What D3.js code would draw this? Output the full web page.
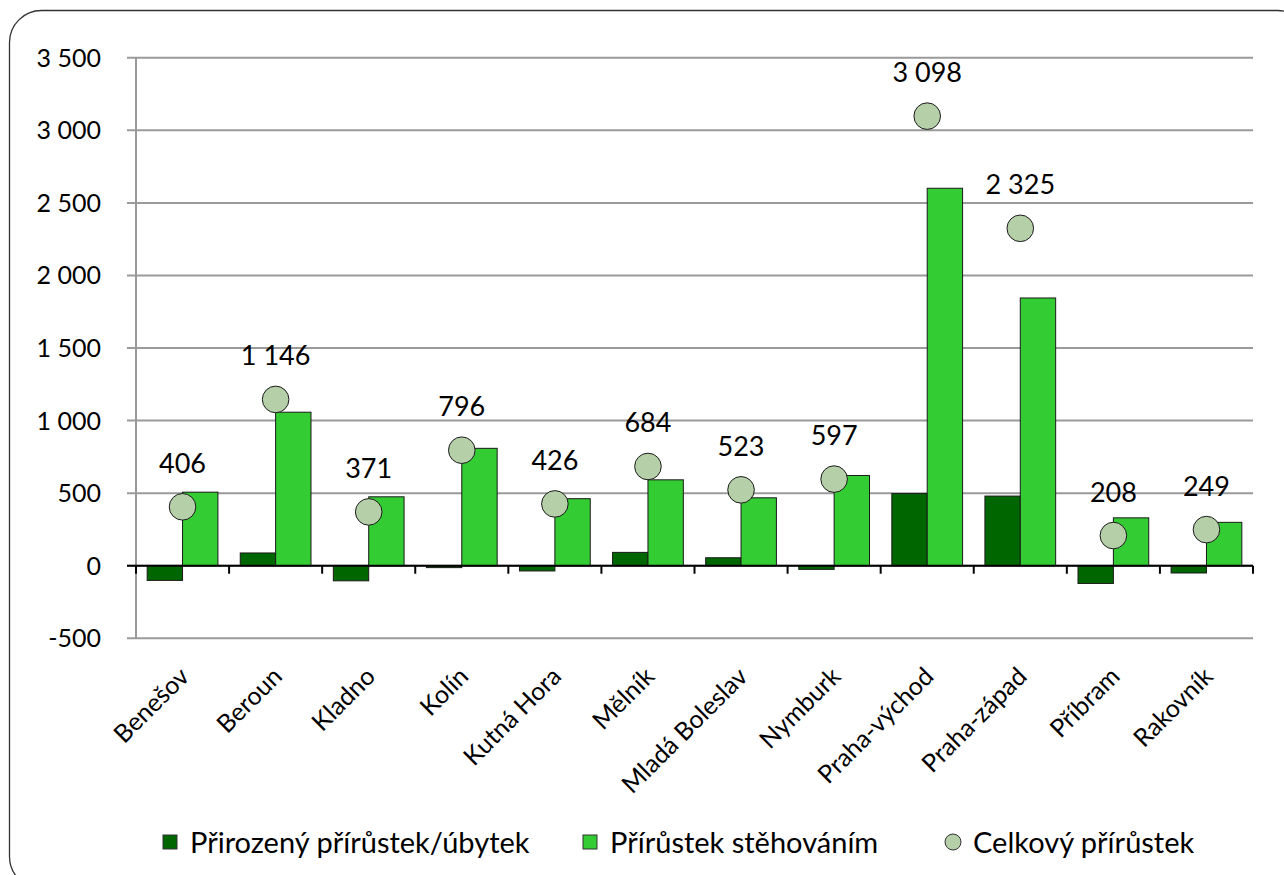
<!DOCTYPE html>
<html>
<head>
<meta charset="utf-8">
<script src="https://cdn.jsdelivr.net/npm/d3@7"></script>
<style>
  body { margin: 0; background: #fff; }
  svg { font-family: Lato, "Open Sans", sans-serif; }
</style>
</head>
<body>
<div id="chart"></div>
<script>
// Frame size and plot margins
const FRAME_WIDTH = 1284;
const FRAME_HEIGHT = 875;
const PLOT = {left: 136, right: 1253, top: 57.8, bottom: 638.3};

// Data
const districts = ["Benešov", "Beroun", "Kladno", "Kolín", "Kutná Hora", "Mělník",
                   "Mladá Boleslav", "Nymburk", "Praha-východ", "Praha-západ", "Příbram", "Rakovník"];
const natural = [-101, 88, -104, -13, -36, 92, 55, -25, 497, 480, -122, -50];
const migration = [507, 1058, 475, 809, 462, 592, 468, 622, 2601, 1845, 330, 299];
const total = [406, 1146, 371, 796, 426, 684, 523, 597, 3098, 2325, 208, 249];
const yTicks = [-500, 0, 500, 1000, 1500, 2000, 2500, 3000, 3500];
const seriesNames = ["Přirozený přírůstek/úbytek", "Přírůstek stěhováním", "Celkový přírůstek"];

const color = {natural: "#006600", migration: "#33cc33", total: "#b5cfa9"};

// Czech number format: space as thousands separator, plain hyphen for minus
const fmt = (v) => d3.format(",")(v).replace(/,/g, " ").replace("\u2212", "-");

const svg = d3.select("#chart")
  .append("svg")
    .attr("width", FRAME_WIDTH)
    .attr("height", FRAME_HEIGHT);

// Rounded outer border
svg.append("rect")
  .attr("x", 9.5).attr("y", 10.5)
  .attr("width", 1300).attr("height", 878)
  .attr("rx", 32).attr("ry", 32)
  .attr("fill", "none")
  .attr("stroke", "#333")
  .attr("stroke-width", 1.3);

// Scales
const X = d3.scaleBand()
  .domain(districts)
  .range([PLOT.left, PLOT.right])
  .paddingInner(0).paddingOuter(0);

const Y = d3.scaleLinear()
  .domain([-500, 3500])
  .range([PLOT.bottom, PLOT.top]);

const barW = X.bandwidth() * 0.38;

// Gridlines (with short tick stubs left of axis)
svg.append("g")
  .selectAll("line")
  .data(yTicks)
  .enter()
  .append("line")
    .attr("x1", PLOT.left - 9).attr("x2", PLOT.right)
    .attr("y1", (d) => Y(d)).attr("y2", (d) => Y(d))
    .attr("stroke", "#9a9a9a")
    .attr("stroke-width", 2);

// Y axis line
svg.append("line")
  .attr("x1", PLOT.left).attr("x2", PLOT.left)
  .attr("y1", PLOT.top).attr("y2", PLOT.bottom)
  .attr("stroke", "#9a9a9a")
  .attr("stroke-width", 2);

// Y tick labels
svg.append("g")
  .selectAll("text")
  .data(yTicks)
  .enter()
  .append("text")
    .attr("x", 101)
    .attr("y", (d) => Y(d))
    .attr("dy", "0.36em")
    .attr("text-anchor", "end")
    .attr("font-size", "25px")
    .attr("fill", "#000")
    .text((d) => fmt(d));

// Natural increase bars
svg.append("g")
  .selectAll("rect")
  .data(districts)
  .enter()
  .append("rect")
    .attr("x", (d) => X(d) + X.bandwidth() / 2 - barW)
    .attr("y", (d, i) => Y(Math.max(0, natural[i])))
    .attr("width", barW)
    .attr("height", (d, i) => Math.abs(Y(natural[i]) - Y(0)))
    .attr("fill", color.natural)
    .attr("stroke", "#1a1a1a")
    .attr("stroke-width", 1);

// Migration bars
svg.append("g")
  .selectAll("rect")
  .data(districts)
  .enter()
  .append("rect")
    .attr("x", (d) => X(d) + X.bandwidth() / 2)
    .attr("y", (d, i) => Y(Math.max(0, migration[i])))
    .attr("width", barW)
    .attr("height", (d, i) => Math.abs(Y(migration[i]) - Y(0)))
    .attr("fill", color.migration)
    .attr("stroke", "#1a1a1a")
    .attr("stroke-width", 1);

// X axis at zero with tick marks between categories
svg.append("line")
  .attr("x1", PLOT.left - 9).attr("x2", PLOT.right)
  .attr("y1", Y(0)).attr("y2", Y(0))
  .attr("stroke", "#000")
  .attr("stroke-width", 2);

svg.append("g")
  .selectAll("line")
  .data(districts.concat(["end"]))
  .enter()
  .append("line")
    .attr("x1", (d, i) => PLOT.left + i * X.bandwidth())
    .attr("x2", (d, i) => PLOT.left + i * X.bandwidth())
    .attr("y1", Y(0)).attr("y2", Y(0) + 8)
    .attr("stroke", "#000")
    .attr("stroke-width", 2);

// Total increase circles
svg.append("g")
  .selectAll("circle")
  .data(districts)
  .enter()
  .append("circle")
    .attr("cx", (d) => X(d) + X.bandwidth() / 2)
    .attr("cy", (d, i) => Y(total[i]))
    .attr("r", 13.3)
    .attr("fill", color.total)
    .attr("stroke", "#1a1a1a")
    .attr("stroke-width", 1);

// Total labels
svg.append("g")
  .selectAll("text")
  .data(districts)
  .enter()
  .append("text")
    .attr("x", (d) => X(d) + X.bandwidth() / 2)
    .attr("y", (d, i) => Y(total[i]) - 34)
    .attr("text-anchor", "middle")
    .attr("font-size", "27px")
    .attr("fill", "#000")
    .text((d, i) => fmt(total[i]));

// Category labels rotated
svg.append("g")
  .selectAll("text")
  .data(districts)
  .enter()
  .append("text")
    .attr("transform", (d) => "translate(" + (X(d) + X.bandwidth() / 2 + 8) + "," + 678 + ") rotate(-45)")
    .attr("text-anchor", "end")
    .attr("font-size", "25px")
    .attr("fill", "#000")
    .text((d) => d);

// Legend
const legend = svg.append("g");
const legendX = [163, 583, 946];

legend.append("rect")
  .attr("x", legendX[0]).attr("y", 835).attr("width", 14).attr("height", 14)
  .attr("fill", color.natural).attr("stroke", "#333").attr("stroke-width", 1);
legend.append("rect")
  .attr("x", legendX[1]).attr("y", 835).attr("width", 14).attr("height", 14)
  .attr("fill", color.migration).attr("stroke", "#333").attr("stroke-width", 1);
legend.append("circle")
  .attr("cx", legendX[2] + 7).attr("cy", 842).attr("r", 8)
  .attr("fill", color.total).attr("stroke", "#333").attr("stroke-width", 1);

legend.selectAll("text")
  .data(seriesNames)
  .enter()
  .append("text")
    .attr("x", (d, i) => legendX[i] + 27)
    .attr("y", 853)
    .attr("font-size", "29px")
    .attr("fill", "#000")
    .text((d) => d);
</script>
</body>
</html>
